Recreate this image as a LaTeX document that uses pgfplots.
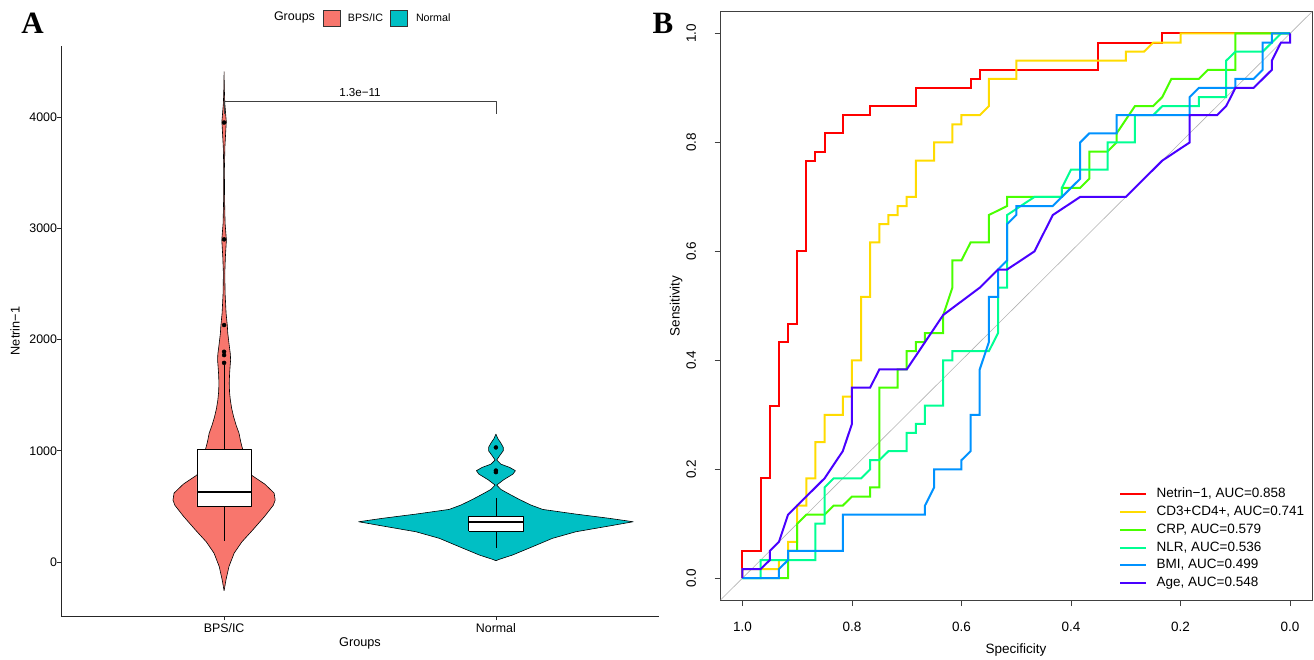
\documentclass[border=0pt]{standalone}
\usepackage{pgfplots}
\pgfplotsset{compat=1.18}
\usepackage{fontspec}
\setmainfont{Liberation Sans}
\newfontfamily\panelfont{Liberation Serif}

\definecolor{bps}{HTML}{F8766D}
\definecolor{nor}{HTML}{00BFC4}
\definecolor{cNet}{HTML}{FF0000}
\definecolor{cCD}{HTML}{FFDB00}
\definecolor{cCRP}{HTML}{49FF00}
\definecolor{cNLR}{HTML}{00FF92}
\definecolor{cBMI}{HTML}{0092FF}
\definecolor{cAge}{HTML}{4900FF}

\newcommand{\fs}[1]{\fontsize{#1}{#1}\selectfont}

\begin{document}
\begin{tikzpicture}
\path[use as bounding box] (0pt,0pt) rectangle (1314pt,659pt);

% ---------------- panel A: violin + box ----------------
\begin{axis}[
    at={(61pt,43pt)}, anchor=south west,
    scale only axis, width=598pt, height=570pt,
    xmin=0.4, xmax=2.6, ymin=-485, ymax=4638,
    axis lines=left,
    axis line style={-, black!85, line width=0.9pt},
    xtick={1,2}, xticklabels={BPS/IC,Normal},
    ytick={0,1000,2000,3000,4000},
    tick align=outside, major tick length=4pt,
    tick style={black!85, line width=0.8pt},
    ticklabel style={font=\fs{12.4}},
    yticklabel style={xshift=3.5pt},
    /pgf/number format/assume math mode=true,
    /pgf/number format/1000 sep={},
    scaled y ticks=false,
    clip=false,
    line join=round,
]
% BPS/IC violin
\addplot[fill=bps, draw=black, line width=0.6pt] coordinates {
 (1,-258) (0.993,-160) (0.982,-40) (0.963,80) (0.935,180) (0.894,290)
 (0.851,410) (0.819,510) (0.812,557) (0.816,620) (0.850,700) (0.900,782)
 (0.915,860) (0.925,940) (0.931,1007) (0.939,1082) (0.945,1157) (0.956,1232)
 (0.965,1306) (0.972,1380) (0.977,1456) (0.980,1530) (0.981,1606) (0.980,1680)
 (0.978,1755) (0.976,1816) (0.977,1870) (0.9805,1935) (0.9864,2056) (0.988,2121)
 (0.9926,2235) (0.9963,2415) (0.9974,2595) (0.9952,2744) (0.9915,2894)
 (0.9963,3044) (0.9982,3254) (0.9989,3524) (0.997,3733) (0.9919,3958)
 (0.9974,4123) (0.9993,4272) (1,4407)
 (1.0007,4272) (1.0026,4123) (1.0081,3958) (1.003,3733) (1.0011,3524)
 (1.0018,3254) (1.0037,3044) (1.0085,2894) (1.0048,2744) (1.0026,2595)
 (1.0037,2415) (1.0074,2235) (1.012,2121) (1.0136,2056) (1.0195,1935)
 (1.023,1870) (1.024,1816) (1.022,1755) (1.020,1680) (1.019,1606) (1.020,1530)
 (1.023,1456) (1.028,1380) (1.035,1306) (1.044,1232) (1.055,1157) (1.061,1082)
 (1.069,1007) (1.075,940) (1.085,860) (1.100,782) (1.150,700) (1.184,620)
 (1.188,557) (1.181,510) (1.149,410) (1.106,290) (1.065,180) (1.037,80)
 (1.018,-40) (1.007,-160) (1,-258)
};
% Normal violin
\addplot[fill=nor, draw=black, line width=0.6pt] coordinates {
 (2,12) (1.988,24) (1.939,63) (1.865,138) (1.792,213) (1.706,272) (1.583,324)
 (1.495,362) (1.583,393) (1.706,431) (1.828,473) (1.871,512) (1.914,563)
 (1.951,611) (1.982,653) (1.997,692) (1.971,740) (1.9375,790) (1.9283,821)
 (1.949,850) (1.982,880) (1.997,917) (1.985,960) (1.973,1000) (1.973,1031)
 (1.982,1070) (1.993,1110) (2,1150)
 (2.007,1110) (2.018,1070) (2.027,1031) (2.027,1000) (2.015,960) (2.003,917)
 (2.018,880) (2.051,850) (2.0717,821) (2.0625,790) (2.029,740) (2.003,692)
 (2.018,653) (2.049,611) (2.086,563) (2.129,512) (2.172,473) (2.294,431)
 (2.417,393) (2.505,362) (2.417,324) (2.294,272) (2.208,213) (2.135,138)
 (2.061,63) (2.012,24) (2,12)
};
% whiskers
\addplot[black, line width=0.7pt] coordinates {(1,191) (1,500)};
\addplot[black, line width=0.7pt] coordinates {(1,1013) (1,1770)};
\addplot[black, line width=0.7pt] coordinates {(2,129) (2,279)};
\addplot[black, line width=0.7pt] coordinates {(2,413) (2,579)};
% boxes
\addplot[fill=white, draw=black, line width=0.7pt] coordinates {
 (0.9,500) (1.1,500) (1.1,1013) (0.9,1013) (0.9,500)};
\addplot[fill=white, draw=black, line width=0.7pt] coordinates {
 (1.9,279) (2.1,279) (2.1,413) (1.9,413) (1.9,279)};
% medians
\addplot[black, line width=1.7pt] coordinates {(0.9,627) (1.1,627)};
\addplot[black, line width=1.7pt] coordinates {(1.9,360) (2.1,360)};
% outliers
\addplot[only marks, mark=*, mark size=2pt, black] coordinates {
 (1,3950) (1,2900) (1,2130) (1,1890) (1,1860) (1,1790)
 (2,1030) (2,822) (2,808)
};
% comparison bracket
\addplot[black!75, line width=0.6pt] coordinates {
 (1,4030) (1,4137) (2,4137) (2,4030)
};
\node[anchor=base, font=\fs{11.6}, yshift=5pt] at (axis cs:1.5,4137) {1.3e−11};
\end{axis}

% ---------------- panel B: ROC curves ----------------
\begin{axis}[
    at={(720.5pt,59pt)}, anchor=south west,
    scale only axis, width=591.5pt, height=588.3pt,
    xmin=-0.04, xmax=1.04, ymin=-0.04, ymax=1.04,
    x dir=reverse,
    xtick={0,0.2,0.4,0.6,0.8,1}, ytick={0,0.2,0.4,0.6,0.8,1},
    tick pos=left, tick align=outside, major tick length=6pt,
    tick style={black!75, line width=0.8pt},
    axis line style={black!75, line width=0.8pt},
    ticklabel style={font=\fs{13.5},
        /pgf/number format/fixed, /pgf/number format/fixed zerofill,
        /pgf/number format/precision=1},
    /pgf/number format/assume math mode=true,
    yticklabel style={rotate=90, anchor=south},
    xticklabel shift=13pt, yticklabel shift=15pt,
    legend style={at={(axis description cs:0.6736,0.1934)}, anchor=north west,
        draw=none, fill=none, inner sep=0pt, row sep=1.7pt, column sep=7.5pt,
        font=\fs{13.5},
        nodes={inner sep=2pt, text height=9.5pt, text depth=2.5pt}},
    legend cell align=left,
    legend image code/.code={\draw[#1] (0pt,0pt) -- (26pt,0pt);},
    every axis plot/.append style={line width=2pt},
]
\addplot[gray!60, line width=0.6pt, forget plot] coordinates {(1.04,-0.04) (-0.04,1.04)};

\addplot[cNet] coordinates {
 (1,0)(1,0.05)(0.9667,0.05)(0.9667,0.1833)(0.95,0.1833)(0.95,0.3167)(0.9333,0.3167)
 (0.9333,0.4333)(0.9167,0.4333)(0.9167,0.4667)(0.9,0.4667)(0.9,0.6)(0.8833,0.6)
 (0.8833,0.7667)(0.8667,0.7667)(0.8667,0.7833)(0.85,0.7833)(0.85,0.8167)
 (0.8167,0.8167)(0.8167,0.85)(0.7667,0.85)(0.7667,0.8667)(0.6833,0.8667)
 (0.6833,0.9)(0.5833,0.9)(0.5833,0.9167)(0.5667,0.9167)(0.5667,0.9333)
 (0.35,0.9333)(0.35,0.9833)(0.2333,0.9833)(0.2333,1)(0,1)
};
\addlegendentry{Netrin−1, AUC=0.858}

\addplot[cCD] coordinates {
 (1,0)(1,0.0167)(0.9333,0.0167)(0.9333,0.0333)(0.9167,0.0333)(0.9167,0.0667)
 (0.9,0.0667)(0.9,0.1333)(0.8833,0.1333)(0.8833,0.1833)(0.8667,0.1833)
 (0.8667,0.25)(0.85,0.25)(0.85,0.3)(0.8167,0.3)(0.8167,0.3333)(0.8,0.3333)
 (0.8,0.4)(0.7833,0.4)(0.7833,0.5167)(0.7667,0.5167)(0.7667,0.6167)(0.75,0.6167)
 (0.75,0.65)(0.7333,0.65)(0.7333,0.6667)(0.7167,0.6667)(0.7167,0.6833)
 (0.7,0.6833)(0.7,0.7)(0.6833,0.7)(0.6833,0.7667)(0.65,0.7667)(0.65,0.8)
 (0.6167,0.8)(0.6167,0.8333)(0.6,0.8333)(0.6,0.85)(0.5667,0.85)(0.55,0.8667)
 (0.55,0.9167)(0.5,0.9167)(0.5,0.95)(0.3,0.95)(0.3,0.9667)(0.2667,0.9667)
 (0.25,0.9833)(0.2,0.9833)(0.2,1)(0,1)
};
\addlegendentry{CD3+CD4+, AUC=0.741}

\addplot[cCRP] coordinates {
 (1,0)(0.9167,0)(0.9167,0.05)(0.9,0.05)(0.9,0.1)(0.8833,0.1167)(0.85,0.1167)
 (0.8333,0.1333)(0.8167,0.1333)(0.8,0.15)(0.7667,0.15)(0.7667,0.1667)
 (0.75,0.1667)(0.75,0.35)(0.7167,0.35)(0.7167,0.3833)(0.7,0.3833)(0.7,0.4167)
 (0.6833,0.4167)(0.6833,0.4333)(0.6667,0.4333)(0.6667,0.45)(0.6333,0.45)
 (0.6333,0.4833)(0.6167,0.5333)(0.6167,0.5833)(0.6,0.5833)(0.5833,0.6167)
 (0.55,0.6167)(0.55,0.6667)(0.5167,0.6833)(0.5167,0.7)(0.4167,0.7)
 (0.4167,0.7167)(0.3833,0.7167)(0.3667,0.7333)(0.3667,0.7833)(0.3333,0.7833)
 (0.3167,0.8)(0.3167,0.8167)(0.2833,0.8667)(0.25,0.8667)(0.2333,0.8833)
 (0.2167,0.9167)(0.1667,0.9167)(0.15,0.9333)(0.1,0.9333)(0.1,1)(0,1)
};
\addlegendentry{CRP, AUC=0.579}

\addplot[cNLR] coordinates {
 (1,0)(0.9667,0)(0.9667,0.0333)(0.8667,0.0333)(0.8667,0.1)(0.85,0.1)
 (0.85,0.1667)(0.8333,0.1833)(0.7833,0.1833)(0.7667,0.2)(0.7667,0.2167)
 (0.75,0.2167)(0.7333,0.2333)(0.7,0.2333)(0.7,0.2667)(0.6833,0.2667)
 (0.6833,0.2833)(0.6667,0.2833)(0.6667,0.3167)(0.6333,0.3167)(0.6333,0.4)
 (0.6167,0.4)(0.6167,0.4167)(0.55,0.4167)(0.5333,0.45)(0.5333,0.5333)
 (0.5167,0.5333)(0.5167,0.6667)(0.4667,0.7)(0.4167,0.7)(0.4167,0.7167)
 (0.4,0.75)(0.3333,0.75)(0.3333,0.8)(0.2833,0.8)(0.2833,0.85)(0.25,0.85)
 (0.2333,0.8667)(0.1667,0.8667)(0.1667,0.8833)(0.1167,0.8833)(0.1167,0.95)
 (0.1,0.9667)(0.05,0.9667)(0.0333,0.9833)(0.0167,1)(0,1)
};
\addlegendentry{NLR, AUC=0.536}

\addplot[cBMI] coordinates {
 (1,0)(0.9333,0)(0.9333,0.0167)(0.9167,0.0333)(0.9167,0.05)(0.8167,0.05)
 (0.8167,0.1167)(0.6667,0.1167)(0.6667,0.1333)(0.65,0.1667)(0.65,0.2)(0.6,0.2)
 (0.6,0.2167)(0.5833,0.2333)(0.5833,0.3)(0.5667,0.3)(0.5667,0.3833)
 (0.55,0.4333)(0.55,0.5167)(0.5333,0.5167)(0.5333,0.5667)(0.5167,0.5833)
 (0.5167,0.65)(0.5,0.6667)(0.5,0.6833)(0.4333,0.6833)(0.3833,0.7333)
 (0.3833,0.8)(0.3667,0.8167)(0.3167,0.8167)(0.3167,0.85)(0.1833,0.85)
 (0.1833,0.8833)(0.1667,0.9)(0.1,0.9)(0.1,0.9167)(0.0667,0.9167)(0.05,0.9333)
 (0.05,0.9833)(0.0333,0.9833)(0.0333,1)(0,1)
};
\addlegendentry{BMI, AUC=0.499}

\addplot[cAge] coordinates {
 (1,0)(1,0.0167)(0.9667,0.0167)(0.95,0.0333)(0.95,0.05)(0.9333,0.0667)
 (0.9167,0.1167)(0.85,0.1833)(0.8167,0.2333)(0.8,0.2833)(0.8,0.35)
 (0.7667,0.35)(0.75,0.3833)(0.7,0.3833)(0.6333,0.4833)(0.5667,0.5333)
 (0.5333,0.5667)(0.5167,0.5667)(0.4667,0.6)(0.4333,0.6667)(0.3833,0.7)
 (0.3,0.7)(0.2333,0.7667)(0.1833,0.8)(0.1833,0.85)(0.1333,0.85)
 (0.1167,0.8667)(0.1,0.9)(0.0667,0.9)(0.0333,0.9333)(0.0333,0.95)
 (0.0167,0.9833)(0,0.9833)(0,1)
};
\addlegendentry{Age, AUC=0.548}
\end{axis}

% ---------------- titles, labels, group legend ----------------
\node[font=\fs{12.7}, rotate=90] at (15pt,328pt) {Netrin−1};
\node[font=\fs{12.7}] at (360pt,16pt) {Groups};
\node[font=\fs{13.5}, rotate=90] at (676pt,353pt) {Sensitivity};
\node[font=\fs{13.5}] at (1016pt,9pt) {Specificity};

\node[font=\fs{12.5}] at (294.5pt,641.7pt) {Groups};
\draw[fill=bps, draw=black!80, line width=0.6pt] (323.6pt,633pt) rectangle (340.5pt,649pt);
\node[font=\fs{10.7}, anchor=west, inner sep=0pt] at (347.7pt,641.7pt) {BPS/IC};
\draw[fill=nor, draw=black!80, line width=0.6pt] (390pt,633pt) rectangle (407.4pt,649pt);
\node[font=\fs{10.7}, anchor=west, inner sep=0pt] at (415.8pt,641.7pt) {Normal};

\node[font=\panelfont\bfseries\fs{31}, anchor=base] at (32.5pt,625.7pt) {A};
\node[font=\panelfont\bfseries\fs{31}, anchor=base] at (663pt,625.7pt) {B};
\end{tikzpicture}
\end{document}
